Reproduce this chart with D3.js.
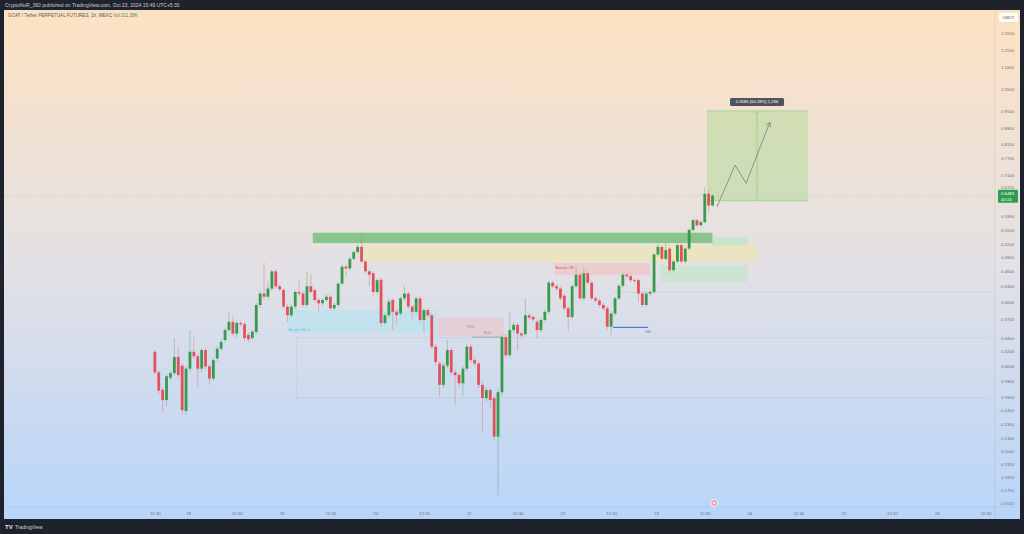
<!DOCTYPE html>
<html><head><meta charset="utf-8">
<script src="https://cdn.jsdelivr.net/npm/d3@7"></script>
<style>html,body{margin:0;padding:0;background:#1e222d;overflow:hidden}svg{display:block}</style>
</head><body><svg id="c" width="1024" height="534"></svg>
<script>
// ---------------- DATA ----------------
const startTime = "2024-10-17T15:30"; // first hourly candle (UTC+5:30 labels)
const opens = [0.3195,0.291,0.269,0.2567,0.284,0.290,0.312,0.300,0.2443,0.296,
0.3195,0.313,0.296,0.322,0.299,0.283,0.310,0.324,0.337,0.3525,
0.366,0.347,0.364,0.362,0.345,0.340,0.3495,0.395,0.416,0.410,
0.4255,0.460,0.430,0.4226,0.392,0.377,0.392,0.419,0.416,0.395,
0.430,0.4226,0.404,0.398,0.404,0.410,0.389,0.395,0.435,0.470,
0.466,0.487,0.502,0.514,0.481,0.460,0.456,0.419,0.443,0.364,
0.377,0.404,0.383,0.380,0.407,0.416,0.392,0.383,0.407,0.369,
0.386,0.377,0.327,0.303,0.275,0.300,0.322,0.291,0.2875,0.277,
0.296,0.327,0.3077,0.303,0.275,0.259,0.2686,0.259,0.2175,0.266,
0.3414,0.3145,0.3525,0.361,0.347,0.346,0.377,0.374,0.366,0.3525,
0.369,0.383,0.437,0.430,0.4255,0.412,0.389,0.374,0.430,0.453,
0.407,0.456,0.437,0.407,0.403,0.395,0.389,0.358,0.380,0.407,
0.431,0.453,0.450,0.442,0.442,0.416,0.395,0.416,0.419,0.4965,
0.514,0.487,0.510,0.4626,0.481,0.518,0.481,0.510,0.555,0.580,
0.567,0.575,0.654,0.620];
const closes = [0.291,0.268,0.2567,0.286,0.290,0.312,0.2875,0.2453,0.296,0.3195,
0.313,0.296,0.322,0.299,0.283,0.3077,0.324,0.334,0.3525,0.366,
0.347,0.364,0.362,0.340,0.338,0.350,0.395,0.416,0.410,0.4255,
0.460,0.430,0.424,0.392,0.377,0.392,0.419,0.416,0.395,0.430,
0.419,0.404,0.398,0.404,0.410,0.389,0.395,0.435,0.470,0.466,
0.487,0.502,0.514,0.481,0.460,0.453,0.419,0.442,0.364,0.377,
0.401,0.383,0.377,0.407,0.416,0.392,0.383,0.407,0.369,0.386,
0.377,0.327,0.305,0.275,0.300,0.322,0.291,0.2875,0.277,0.296,
0.327,0.3077,0.303,0.275,0.259,0.2686,0.2567,0.2175,0.266,0.3414,
0.3145,0.3525,0.361,0.347,0.344,0.377,0.373,0.370,0.3525,0.369,
0.383,0.437,0.430,0.4255,0.407,0.389,0.374,0.430,0.453,0.407,
0.456,0.437,0.407,0.403,0.395,0.389,0.358,0.380,0.407,0.431,
0.453,0.450,0.442,0.440,0.416,0.395,0.416,0.419,0.4965,0.514,
0.487,0.5065,0.4626,0.481,0.518,0.481,0.510,0.555,0.580,0.567,
0.575,0.654,0.620,0.6483];
const highs = [0.322,0.293,0.272,0.289,0.293,0.340,0.327,0.303,0.299,0.3525,
0.342,0.316,0.325,0.326,0.302,0.311,0.328,0.338,0.356,0.383,
0.375,0.368,0.368,0.366,0.349,0.353,0.399,0.420,0.479,0.440,
0.464,0.464,0.434,0.426,0.396,0.396,0.423,0.442,0.420,0.460,
0.455,0.426,0.408,0.408,0.414,0.414,0.399,0.439,0.474,0.474,
0.491,0.506,0.520,0.545,0.485,0.464,0.460,0.446,0.447,0.381,
0.407,0.408,0.387,0.411,0.432,0.420,0.396,0.411,0.411,0.390,
0.390,0.381,0.331,0.306,0.304,0.337,0.326,0.295,0.291,0.300,
0.331,0.331,0.312,0.306,0.279,0.272,0.272,0.262,0.270,0.345,
0.345,0.383,0.365,0.365,0.350,0.407,0.381,0.378,0.370,0.373,
0.387,0.441,0.441,0.434,0.430,0.416,0.393,0.434,0.472,0.457,
0.468,0.460,0.441,0.411,0.407,0.399,0.393,0.384,0.411,0.435,
0.457,0.457,0.454,0.446,0.446,0.420,0.420,0.423,0.500,0.527,
0.518,0.525,0.514,0.485,0.522,0.522,0.514,0.559,0.584,0.584,
0.579,0.672,0.665,0.652];
const lows = [0.288,0.264,0.243,0.250,0.281,0.287,0.284,0.240,0.240,0.292,
0.309,0.273,0.291,0.295,0.275,0.280,0.306,0.321,0.334,0.349,
0.343,0.341,0.358,0.336,0.333,0.337,0.346,0.390,0.405,0.405,
0.421,0.426,0.420,0.388,0.366,0.373,0.388,0.412,0.391,0.391,
0.415,0.400,0.384,0.394,0.400,0.385,0.385,0.391,0.431,0.450,
0.462,0.483,0.498,0.478,0.456,0.430,0.410,0.415,0.358,0.360,
0.373,0.3525,0.360,0.376,0.403,0.388,0.370,0.379,0.365,0.348,
0.373,0.323,0.301,0.261,0.271,0.296,0.287,0.251,0.273,0.262,
0.292,0.304,0.299,0.271,0.222,0.255,0.248,0.214,0.167,0.262,
0.311,0.311,0.349,0.322,0.340,0.342,0.369,0.366,0.340,0.349,
0.365,0.379,0.426,0.421,0.403,0.385,0.352,0.370,0.426,0.403,
0.403,0.433,0.403,0.399,0.391,0.385,0.3525,0.345,0.376,0.403,
0.427,0.446,0.438,0.436,0.400,0.391,0.391,0.412,0.415,0.492,
0.483,0.483,0.456,0.458,0.477,0.477,0.477,0.506,0.551,0.563,
0.563,0.571,0.600,0.616];

const yTickValues = [1.3550,1.2550,1.1600,1.0500,0.9500,0.8800,0.8200,0.7700,0.7100,0.6750,
0.5900,0.5550,0.5200,0.4900,0.4600,0.4300,0.4000,0.3700,0.3400,0.3200,0.3000,0.2800,
0.2600,0.2450,0.2300,0.2160,0.2040,0.1920,0.1810,0.1710,0.1610];
const xTickTimes = ["2024-10-17T15:30","2024-10-18T00:00","2024-10-18T12:30","2024-10-19T00:00","2024-10-19T12:30",
"2024-10-20T00:00","2024-10-20T12:30","2024-10-21T00:00","2024-10-21T12:30","2024-10-22T00:00","2024-10-22T12:30",
"2024-10-23T00:00","2024-10-23T12:30","2024-10-24T00:00","2024-10-24T12:30","2024-10-25T00:00","2024-10-25T12:30",
"2024-10-26T00:00","2024-10-26T12:30"];
const xTickLabels = ["15:30","18","12:30","19","12:30","20","12:30","21","12:30","22","12:30","23","12:30","24","12:30","25","12:30","26","12:30"];

// zones (time range, price range)
const zoneNames  = ["breaker","fvgLow","supplyBand","supplyExt","yellowBand","demandExt","bearOB"];
const zoneStart  = ["2024-10-19T01:30","2024-10-20T16:00","2024-10-19T08:00","2024-10-23T14:30","2024-10-19T21:00","2024-10-23T01:00","2024-10-21T22:00"];
const zoneEnd    = ["2024-10-20T16:00","2024-10-21T09:00","2024-10-23T14:30","2024-10-23T23:30","2024-10-24T02:00","2024-10-23T23:30","2024-10-22T22:30"];
const zoneTop    = [0.386,0.3722,0.548,0.537,0.518,0.473,0.4776];
const zoneBottom = [0.3478,0.343,0.523,0.5134,0.4797,0.438,0.4523];
const zoneLabels = ["Breaker Block","FVG","","","","","Bearish OB"];

// long position tool
const posStart = "2024-10-23T13:06", posEnd = "2024-10-24T15:00", posMid = "2024-10-24T01:54";
const posEntry = 0.6336, posTarget = 0.952;
const posLabel = "0.3186 (50.28%) 1,186";
// projected path
const projTimes = ["2024-10-23T15:36","2024-10-23T20:18","2024-10-23T23:06","2024-10-24T05:12"];
const projPrices = [0.6155,0.7445,0.686,0.904];
// horizontal levels
const levelStart = ["2024-10-22T13:00","2024-10-21T00:48","2024-10-22T13:00"];
const levelEnd   = ["2024-10-22T22:00","2024-10-21T08:48",null];
const levelPrice = [0.357,0.3415,0.4188];
const levelLabel = ["SSL","BOS",""];
// faint range lines
const rangeStart = "2024-10-19T03:54", rangeTop = 0.3405, rangeBottom = 0.259;
const lastPrice = 0.6483, countdown = "40:24";
const eventTime = "2024-10-23T14:54";

// ---------------- DRAW ----------------
const W = 1024, H = 534;
const P = {l:4, r:995, t:10, b:507};
const parse = d3.utcParse("%Y-%m-%dT%H:%M");
const svg = d3.select("#c");
const FONT = "'Liberation Sans', Arial, sans-serif";

const x = d3.scaleUtc().domain([parse("2024-10-18T00:00"), parse("2024-10-26T00:00")]).range([188, 188 + 192*3.9]);
const y = d3.scaleLog().domain([0.161, 1.355]).range([503, 33]);

const defs = svg.append("defs");
const grad = defs.append("linearGradient").attr("id","bg").attr("x1",0).attr("y1",0).attr("x2",0).attr("y2",1);
grad.append("stop").attr("offset","0%").attr("stop-color","#fde2c2");
grad.append("stop").attr("offset","50%").attr("stop-color","#e3e1e5");
grad.append("stop").attr("offset","100%").attr("stop-color","#b8d5f9");
defs.append("clipPath").attr("id","clip").append("rect").attr("x",P.l).attr("y",P.t).attr("width",P.r-P.l).attr("height",P.b-P.t);

// frame
svg.append("rect").attr("width",W).attr("height",H).attr("fill","#1e222d");
svg.append("rect").attr("x",4).attr("y",10).attr("width",1016).attr("height",509).attr("fill","url(#bg)");
svg.append("text").attr("x",5).attr("y",7).attr("font-family",FONT).attr("font-size",5).attr("fill","#c9ccd4")
  .text("CryptoNuR_360 published on TradingView.com, Oct 23, 2024 15:49 UTC+5:30");
svg.append("text").attr("x",5).attr("y",529).attr("font-family",FONT).attr("font-size",6).attr("font-weight","bold").attr("fill","#e8e8ea").text("TV");
svg.append("text").attr("x",15).attr("y",528.5).attr("font-family",FONT).attr("font-size",5).attr("fill","#d0d3da").text("TradingView");

// separators
svg.append("line").attr("x1",P.r).attr("x2",P.r).attr("y1",10).attr("y2",519).attr("stroke","rgba(0,0,0,0.06)");
svg.append("line").attr("x1",4).attr("x2",1020).attr("y1",P.b).attr("y2",P.b).attr("stroke","rgba(0,0,0,0.04)");

const g = svg.append("g").attr("clip-path","url(#clip)");

// faint range lines
const rx0 = x(parse(rangeStart));
const faint = "rgba(120,130,140,0.22)";
g.append("line").attr("x1",rx0).attr("x2",rx0).attr("y1",y(rangeTop)).attr("y2",y(rangeBottom)).attr("stroke",faint).attr("stroke-width",0.6);
g.append("line").attr("x1",rx0).attr("x2",990).attr("y1",y(rangeTop)).attr("y2",y(rangeTop)).attr("stroke",faint).attr("stroke-width",0.6);
g.append("line").attr("x1",rx0).attr("x2",990).attr("y1",y(rangeBottom)).attr("y2",y(rangeBottom)).attr("stroke",faint).attr("stroke-width",0.6);

// zones
const zoneStyle = {
  breaker:{fill:"#bfe3ee",op:0.85,text:"#5bc3dc"},
  fvgLow:{fill:"#e8c9cf",op:0.75,text:"#b08890"},
  supplyBand:{fill:"#63ba68",op:0.72,text:"#333"},
  supplyExt:{fill:"#bfe4c2",op:0.7,text:"#333"},
  yellowBand:{fill:"#f0e6ab",op:0.6,text:"#333"},
  demandExt:{fill:"#c4e5cb",op:0.7,text:"#333"},
  bearOB:{fill:"#efc4c4",op:0.7,text:"#e0505a"}
};
zoneNames.forEach((n,i)=>{
  const x0 = x(parse(zoneStart[i])), x1 = x(parse(zoneEnd[i]));
  const s = zoneStyle[n];
  g.append("rect").attr("x",x0).attr("y",y(zoneTop[i])).attr("width",x1-x0).attr("height",y(zoneBottom[i])-y(zoneTop[i]))
    .attr("fill",s.fill).attr("opacity",s.op);
  if (zoneLabels[i]) {
    const lx = n==="fvgLow" ? (x0+x1)/2 : x0+1;
    g.append("text").attr("x",lx).attr("y",n==="breaker"? y(zoneBottom[i])-2 : (n==="bearOB"? y(zoneTop[i])+6 : (y(zoneTop[i])+y(zoneBottom[i]))/2+1))
      .attr("text-anchor", n==="fvgLow"?"middle":"start").attr("font-family",FONT).attr("font-size",3.5).attr("fill",s.text).text(zoneLabels[i]);
  }
});

// levels
const levelColor = ["#4a7fd0","#8a9ab0","rgba(120,130,140,0.25)"];
levelPrice.forEach((p,i)=>{
  const x0 = x(parse(levelStart[i])), x1 = levelEnd[i] ? x(parse(levelEnd[i])) : 990;
  g.append("line").attr("x1",x0).attr("x2",x1).attr("y1",y(p)).attr("y2",y(p))
    .attr("stroke",levelColor[i]).attr("stroke-width", i===0?1.2:(i===1?0.8:0.6));
  if (levelLabel[i]) g.append("text").attr("x", i===0 ? x1 : (x0+x1)/2).attr("y", i===0 ? y(p)+6 : y(p)-3)
    .attr("text-anchor","middle").attr("font-family",FONT).attr("font-size",3.5).attr("fill",levelColor[i]).text(levelLabel[i]);
});

// current price dotted line
g.append("line").attr("x1",P.l).attr("x2",P.r).attr("y1",y(lastPrice)).attr("y2",y(lastPrice))
  .attr("stroke","rgba(150,120,120,0.45)").attr("stroke-width",0.6).attr("stroke-dasharray","1,2");

// long position box
const px0 = x(parse(posStart)), px1 = x(parse(posEnd)), pxm = x(parse(posMid));
g.append("rect").attr("x",px0).attr("y",y(posTarget)).attr("width",px1-px0).attr("height",y(posEntry)-y(posTarget))
  .attr("fill","#a8d98f").attr("opacity",0.45);
g.append("line").attr("x1",px0).attr("x2",px1).attr("y1",y(posTarget)).attr("y2",y(posTarget)).attr("stroke","#9ccf86").attr("stroke-width",0.8);
g.append("line").attr("x1",px0).attr("x2",px1).attr("y1",y(posEntry)).attr("y2",y(posEntry)).attr("stroke","#9ccf86").attr("stroke-width",0.8);
g.append("line").attr("x1",pxm).attr("x2",pxm).attr("y1",y(posTarget)).attr("y2",y(posEntry)).attr("stroke","#8cc47a").attr("stroke-width",0.6);
g.append("path").attr("d",`M${pxm-2},${y(posTarget)+3}L${pxm},${y(posTarget)+1}L${pxm+2},${y(posTarget)+3}`).attr("fill","none").attr("stroke","#8cc47a").attr("stroke-width",0.6);
g.append("rect").attr("x",pxm-27).attr("y",y(posTarget)-13).attr("width",54).attr("height",8).attr("rx",1.5).attr("fill","#4d525c");
g.append("text").attr("x",pxm).attr("y",y(posTarget)-7.6).attr("text-anchor","middle").attr("font-family",FONT).attr("font-size",4.2).attr("fill","#fff").text(posLabel);

// projected path
const pts = projTimes.map((t,i)=>[x(parse(t)), y(projPrices[i])]);
g.append("path").attr("d",d3.line()(pts)).attr("fill","none").attr("stroke","#6e7178").attr("stroke-width",0.7);
const [ax,ay] = pts[pts.length-1], [bx,by] = pts[pts.length-2];
const ang = Math.atan2(ay-by, ax-bx);
const ah = (a)=>[ax-5*Math.cos(ang+a), ay-5*Math.sin(ang+a)];
g.append("path").attr("d",`M${ah(0.5)}L${ax},${ay}L${ah(-0.5)}`).attr("fill","none").attr("stroke","#6e7178").attr("stroke-width",0.7);

// candles
const t0 = parse(startTime);
const candles = closes.map((c,i)=>({t:d3.utcHour.offset(t0,i), o:opens[i], c, h:highs[i], l:lows[i]}));
const UP = "#3a9a4b", DN = "#e2525e";
const cg = g.append("g");
cg.selectAll("line").data(candles).join("line")
  .attr("x1",d=>x(d.t)).attr("x2",d=>x(d.t)).attr("y1",d=>y(d.h)).attr("y2",d=>y(d.l))
  .attr("stroke",d=>d.c>=d.o?UP:DN).attr("stroke-opacity",0.6).attr("stroke-width",0.6);
cg.selectAll("rect").data(candles).join("rect")
  .attr("x",d=>x(d.t)-1.4).attr("width",2.8)
  .attr("y",d=>y(Math.max(d.o,d.c))).attr("height",d=>Math.max(0.8, Math.abs(y(d.o)-y(d.c))))
  .attr("fill",d=>d.c>=d.o?UP:DN);

// legend
const lg = svg.append("text").attr("x",8).attr("y",17).attr("font-family",FONT).attr("font-size",4.6).attr("fill","#555a66");
lg.append("tspan").text("GOAT / Tether PERPETUAL FUTURES, 1h, MEXC  ");
lg.append("tspan").attr("fill","#777").text("Vol ");
lg.append("tspan").attr("fill","#3a9a4b").text("211.38K");

// y axis
const yAxis = svg.append("g").attr("transform",`translate(999,0)`)
  .call(d3.axisRight(y).tickValues(yTickValues).tickFormat(d3.format(".4f")).tickSize(0).tickPadding(2));
yAxis.select(".domain").remove();
yAxis.selectAll("text").attr("font-family",FONT).attr("font-size",4.3).attr("fill","#6a6f7a");

// x axis
const xAxis = svg.append("g").attr("transform",`translate(0,${P.b})`)
  .call(d3.axisBottom(x).tickValues(xTickTimes.map(parse)).tickFormat((d,i)=>xTickLabels[i]).tickSize(0).tickPadding(5));
xAxis.select(".domain").remove();
xAxis.selectAll("text").attr("font-family",FONT).attr("font-size",4.3).attr("fill","#6a6f7a");

// USDT header + price label
svg.append("rect").attr("x",999).attr("y",13).attr("width",19).attr("height",9).attr("rx",1).attr("fill","#ffffff").attr("opacity",0.85);
svg.append("text").attr("x",1008.5).attr("y",19.3).attr("text-anchor","middle").attr("font-family",FONT).attr("font-size",4.3).attr("fill","#555").text("USDT");
const ly = y(lastPrice);
svg.append("rect").attr("x",998).attr("y",ly-6).attr("width",20).attr("height",13).attr("rx",1).attr("fill","#2f9c4e");
svg.append("text").attr("x",1001).attr("y",ly-0.8).attr("font-family",FONT).attr("font-size",4.3).attr("fill","#fff").text(d3.format(".4f")(lastPrice));
svg.append("text").attr("x",1001).attr("y",ly+5).attr("font-family",FONT).attr("font-size",4.3).attr("fill","#fff").text(countdown);

// event marker
const ex = x(parse(eventTime));
svg.append("circle").attr("cx",ex).attr("cy",503).attr("r",3.6).attr("fill","#f3a3b3").attr("stroke","#fff").attr("stroke-width",0.8);
svg.append("circle").attr("cx",ex).attr("cy",503).attr("r",1).attr("fill","#fff");
</script></body></html>
